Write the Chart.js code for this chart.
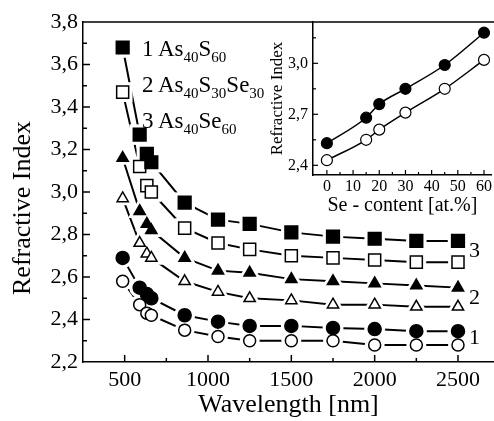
<!DOCTYPE html>
<html lang="en">
<head>
<meta charset="utf-8">
<title>Refractive Index vs Wavelength</title>
<script src="https://cdn.jsdelivr.net/npm/chart.js@4.4.1/dist/chart.umd.min.js"></script>
<style>
  html, body { margin: 0; padding: 0; background: #fff; overflow: hidden; }
  #wrap { position: relative; width: 494px; height: 421px; overflow: hidden; font-family: 'Liberation Serif', 'Times New Roman', serif; color: #000; }
  #mainChart { position: absolute; left: 0; top: 0; }
  #insetChart { position: absolute; left: 255px; top: 0; }
  .lbl { position: absolute; left: 142px; white-space: nowrap; font-size: 23px; line-height: 23px; }
  .lbl span { font-size: 15px; position: relative; top: 6px; }
  .num { position: absolute; left: 469px; font-size: 22px; line-height: 22px; }
  #yTitle { position: absolute; left: -78px; top: 193px; width: 200px; height: 30px; line-height: 30px;
            text-align: center; font-size: 26px; white-space: nowrap; transform: rotate(-90deg); }
</style>
</head>
<body>
<div id="wrap">
  <canvas id="mainChart" width="494" height="421"></canvas>
  <canvas id="insetChart" width="239" height="220"></canvas>
  <div id="yTitle">Refractive Index</div>
  <div class="lbl" style="top:37px">1 As<span>40</span>S<span>60</span></div>
  <div class="lbl" style="top:73px">2 As<span>40</span>S<span>30</span>Se<span>30</span></div>
  <div class="lbl" style="top:109px">3 As<span>40</span>Se<span>60</span></div>
  <div class="num" style="top:239px">3</div>
  <div class="num" style="top:286px">2</div>
  <div class="num" style="top:326px">1</div>
</div>
<script>
// 主图：折射率 vs 波长
const wavelength = [488, 590, 633, 660, 860, 1060, 1250, 1500, 1750, 2000, 2250, 2500];
const n3Filled = [3.68, 3.27, 3.18, 3.14, 2.95, 2.87, 2.85, 2.81, 2.79, 2.78, 2.77, 2.77];
const n3Open   = [3.47, 3.12, 3.03, 3.00, 2.83, 2.76, 2.73, 2.70, 2.69, 2.68, 2.67, 2.67];
const n2Filled = [3.16, 2.91, 2.85, 2.82, 2.69, 2.63, 2.62, 2.59, 2.58, 2.57, 2.56, 2.55];
const n2Open   = [2.97, 2.76, 2.71, 2.69, 2.58, 2.53, 2.50, 2.49, 2.47, 2.47, 2.46, 2.46];
const n1Filled = [2.69, 2.55, 2.52, 2.50, 2.42, 2.39, 2.37, 2.37, 2.36, 2.355, 2.345, 2.345];
const n1Open   = [2.58, 2.47, 2.43, 2.42, 2.35, 2.32, 2.30, 2.30, 2.30, 2.28, 2.28, 2.28];

// 插图：折射率 vs Se 含量
const seContent = [0, 15, 20, 30, 45, 60];
const insetFilled = [2.53, 2.68, 2.76, 2.85, 2.99, 3.18];
const insetOpen   = [2.43, 2.55, 2.61, 2.71, 2.85, 3.02];

// 刻度（含次刻度）
const mainXTicks = [500, 750, 1000, 1250, 1500, 1750, 2000, 2250, 2500];
const mainYTicks = [2.2, 2.3, 2.4, 2.5, 2.6, 2.7, 2.8, 2.9, 3.0, 3.1, 3.2, 3.3, 3.4, 3.5, 3.6, 3.7, 3.8];
const insetXTicks = [0, 5, 10, 15, 20, 25, 30, 35, 40, 45, 50, 55, 60];
const insetYTicks = [2.4, 2.55, 2.7, 2.85, 3.0, 3.15];

const FONT = "'Liberation Serif', 'Times New Roman', serif";
Chart.defaults.font.family = FONT;
Chart.defaults.color = '#000';

const toXY = (xs, ys) => xs.map((x, i) => ({ x, y: ys[i] }));
const comma = (v, digits) => v.toFixed(digits).replace('.', ',');
const setTicks = list => scale => { scale.ticks = list.map(value => ({ value })); };

// 内向刻度线 + 顶部边框
const innerTicks = {
    id: 'innerTicks',
    afterDraw(chart, args, opts) {
        const { ctx, chartArea } = chart;
        ctx.save();
        ctx.strokeStyle = '#000';
        ctx.lineWidth = opts.width;
        ['x', 'y'].forEach(id => {
            const scale = chart.scales[id];
            scale.ticks.forEach(t => {
                const p = scale.getPixelForValue(t.value);
                const len = t.label === '' ? opts.minor : opts.major;
                if (id === 'x') {
                    if (Math.abs(p - chartArea.left) < 2) return;
                    ctx.beginPath();
                    ctx.moveTo(p, chartArea.bottom);
                    ctx.lineTo(p, chartArea.bottom - len);
                } else {
                    if (Math.abs(p - chartArea.bottom) < 2 || Math.abs(p - chartArea.top) < 2) return;
                    ctx.beginPath();
                    ctx.moveTo(chartArea.left, p);
                    ctx.lineTo(chartArea.left + len, p);
                }
                ctx.stroke();
            });
        });
        if (opts.top) {
            ctx.beginPath();
            ctx.moveTo(chartArea.left, chartArea.top);
            ctx.lineTo(chart.width, chartArea.top);
            ctx.stroke();
        }
        ctx.restore();
    }
};

// 每条曲线：连线 + 白色遮罩 + 符号（线条在符号处断开）
const haloPad = { rect: 5.5, circle: 4, triangle: 7 };
function seriesSets(values, style, radius, filled) {
    const pts = toXY(wavelength, values);
    return [
        { data: pts, showLine: true, pointRadius: 0, borderColor: '#000', borderWidth: 2, order: 3 },
        { data: pts, showLine: false, pointStyle: style, pointRadius: radius + haloPad[style],
          pointBackgroundColor: '#fff', pointBorderColor: '#fff', pointBorderWidth: 0, order: 2 },
        { data: pts, showLine: false, pointStyle: style, pointRadius: radius,
          pointBackgroundColor: filled ? '#000' : '#fff', pointBorderColor: '#000', pointBorderWidth: 1.5, order: 1 }
    ];
}

new Chart(document.getElementById('mainChart'), {
    type: 'scatter',
    data: {
        datasets: [
            ...seriesSets(n3Filled, 'rect', 9, true),
            ...seriesSets(n3Open, 'rect', 8.5, false),
            ...seriesSets(n2Filled, 'triangle', 6.5, true),
            ...seriesSets(n2Open, 'triangle', 6.5, false),
            ...seriesSets(n1Filled, 'circle', 6.5, true),
            ...seriesSets(n1Open, 'circle', 6, false)
        ]
    },
    options: {
        responsive: false,
        animation: false,
        events: [],
        layout: { autoPadding: false, padding: { top: 22, right: 0, bottom: 0, left: 0 } },
        plugins: {
            legend: { display: false },
            tooltip: { enabled: false },
            innerTicks: { width: 1.5, major: 7, minor: 4, top: true }
        },
        scales: {
            x: {
                type: 'linear',
                min: 250,
                max: 2716,
                afterFit: s => { s.height = 59; },
                afterBuildTicks: setTicks(mainXTicks),
                grid: { display: false, drawTicks: false },
                border: { color: '#000', width: 1.5 },
                title: { display: true, text: 'Wavelength [nm]', font: { size: 26 }, padding: { top: 0, bottom: 0 } },
                ticks: {
                    autoSkip: false,
                    maxRotation: 0,
                    padding: 5,
                    font: { size: 22 },
                    callback: v => (v % 500 === 0 ? String(v) : '')
                }
            },
            y: {
                min: 2.2,
                max: 3.8,
                afterFit: s => { s.width = 83; },
                afterBuildTicks: setTicks(mainYTicks),
                grid: { display: false, drawTicks: false },
                border: { color: '#000', width: 1.5 },
                title: { display: false },
                ticks: {
                    autoSkip: false,
                    padding: 5,
                    font: { size: 22 },
                    callback: v => (Math.round(v * 10) % 2 === 0 ? comma(v, 1) : '')
                }
            }
        }
    },
    plugins: [innerTicks]
});

new Chart(document.getElementById('insetChart'), {
    type: 'scatter',
    data: {
        datasets: [
            { data: toXY(seContent, insetFilled), showLine: true, cubicInterpolationMode: 'monotone',
              borderColor: '#000', borderWidth: 1.5, pointRadius: 5.5,
              pointBackgroundColor: '#000', pointBorderColor: '#000', pointBorderWidth: 1.2 },
            { data: toXY(seContent, insetOpen), showLine: true, cubicInterpolationMode: 'monotone',
              borderColor: '#000', borderWidth: 1.5, pointRadius: 5.5,
              pointBackgroundColor: '#fff', pointBorderColor: '#000', pointBorderWidth: 1.2 }
        ]
    },
    options: {
        responsive: false,
        animation: false,
        events: [],
        layout: { autoPadding: false, padding: { top: 22, right: 0, bottom: 0, left: 0 } },
        plugins: {
            legend: { display: false },
            tooltip: { enabled: false },
            innerTicks: { width: 1.2, major: 5, minor: 3, top: false }
        },
        scales: {
            x: {
                type: 'linear',
                min: -5.3,
                max: 63,
                afterFit: s => { s.height = 45; },
                afterBuildTicks: setTicks(insetXTicks),
                grid: { display: false, drawTicks: false },
                border: { color: '#000', width: 1.5 },
                title: { display: true, text: 'Se - content [at.%]', font: { size: 20 }, padding: { top: 0, bottom: 2 } },
                ticks: {
                    autoSkip: false,
                    maxRotation: 0,
                    padding: 2,
                    font: { size: 16 },
                    callback: v => (v % 10 === 0 ? String(v) : '')
                }
            },
            y: {
                min: 2.343,
                max: 3.243,
                afterFit: s => { s.width = 58; },
                afterBuildTicks: setTicks(insetYTicks),
                grid: { display: false, drawTicks: false },
                border: { color: '#000', width: 1.5 },
                title: { display: true, text: 'Refractive Index', font: { size: 17 }, padding: { top: 12, bottom: 0 } },
                ticks: {
                    autoSkip: false,
                    padding: 5,
                    font: { size: 16 },
                    callback: v => (Math.round(v / 0.15) % 2 === 0 ? comma(v, 1) : '')
                }
            }
        }
    },
    plugins: [innerTicks]
});
</script>
</body>
</html>
